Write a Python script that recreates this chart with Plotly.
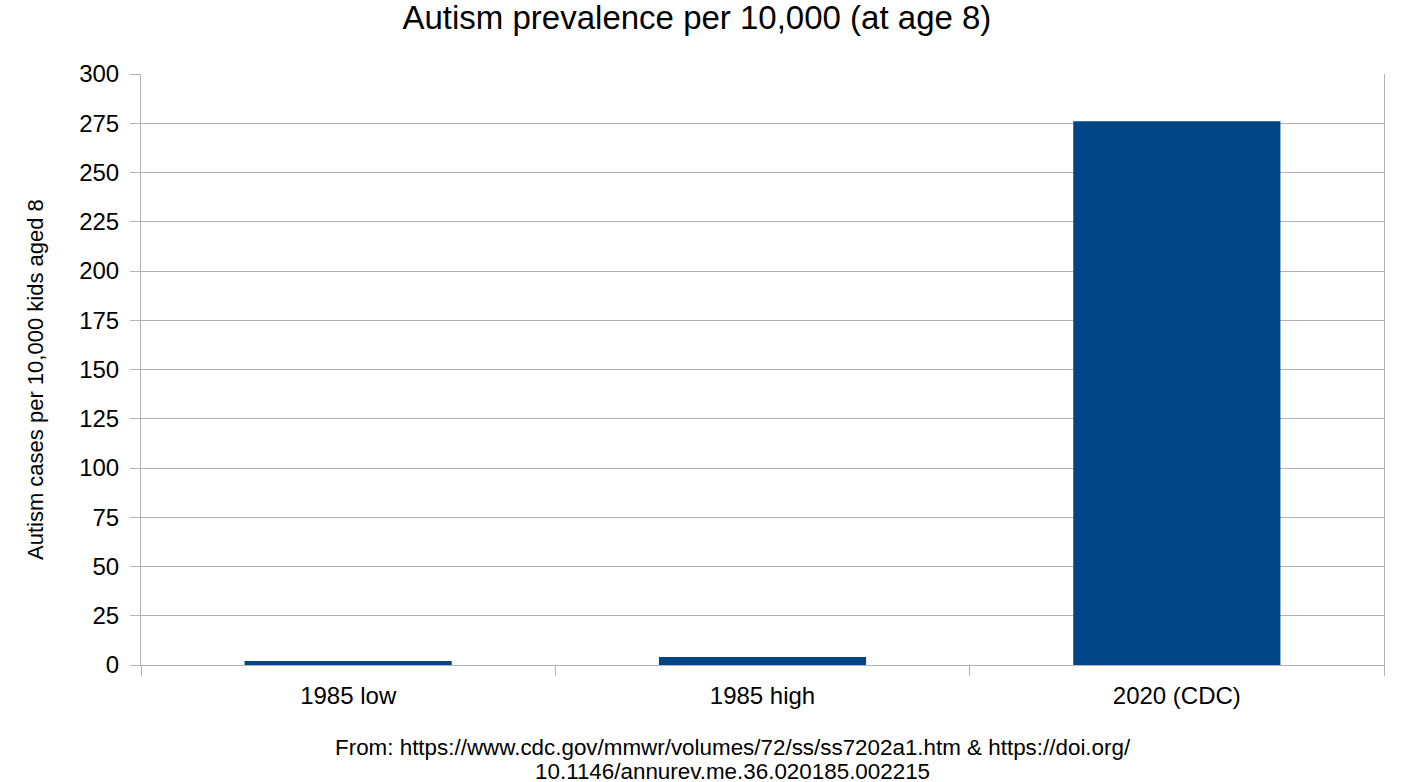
import plotly.graph_objects as go

categories = ["1985 low", "1985 high", "2020 (CDC)"]
values = [2, 4, 276]
y_ticks = list(range(0, 301, 25))

source_lines = [
    "From: https://www.cdc.gov/mmwr/volumes/72/ss/ss7202a1.htm & https://doi.org/",
    "10.1146/annurev.me.36.020185.002215",
]

grid = "#b3b3b3"
font = "Liberation Sans, Arial, sans-serif"

fig = go.Figure(go.Bar(x=categories, y=values, marker=dict(color="#004586", line=dict(width=0))))

fig.update_layout(
    width=1402, height=782,
    margin=dict(l=141, r=18, t=74, b=117),
    paper_bgcolor="white", plot_bgcolor="white",
    bargap=0.5,
    font=dict(family=font, color="black"),
    title=dict(text="Autism prevalence per 10,000 (at age 8)", xref="container", x=0.4971, xanchor="center",
               yref="container", y=0.9783, yanchor="middle", font=dict(size=33, family=font, color="black")),
    showlegend=False,
)
fig.update_xaxes(
    showline=True, linecolor=grid, linewidth=1,
    ticks="outside", tickson="boundaries", ticklen=10, tickcolor=grid,
    ticklabelstandoff=9,
    tickfont=dict(size=24, family=font, color="black"),
    showgrid=False,
)
fig.update_yaxes(
    range=[0, 300], tickvals=y_ticks,
    showline=True, linecolor=grid, linewidth=1, mirror=True,
    ticks="outside", ticklen=10, tickcolor=grid,
    ticklabelstandoff=6,
    showgrid=True, gridcolor=grid, gridwidth=1,
    zeroline=False,
    tickfont=dict(size=24, family=font, color="black"),
)
fig.add_annotation(
    text="Autism cases per 10,000 kids aged 8", textangle=-90,
    xref="paper", yref="paper", x=-0.0853, y=0.4839, xanchor="center", yanchor="middle",
    showarrow=False, font=dict(size=22, family=font, color="black"),
)
for line, ypos in zip(source_lines, [-0.1404, -0.1794]):
    fig.add_annotation(
        text=line, xref="paper", yref="paper", x=0.4759, y=ypos, xanchor="center", yanchor="middle",
        showarrow=False, font=dict(size=22.4, family=font, color="black"),
    )
fig.write_html("out.html", config={"displayModeBar": False},
               post_script="document.body.style.margin='0';")
